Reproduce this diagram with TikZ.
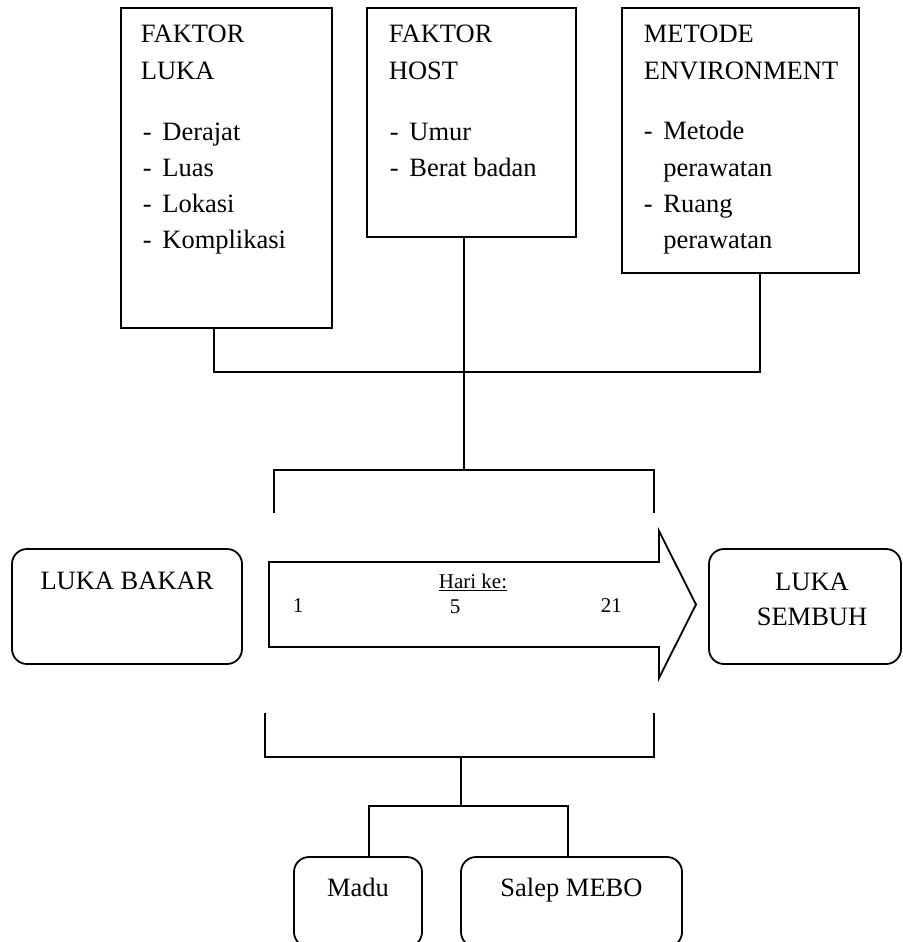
\documentclass[tikz,border=0pt]{standalone}
\usepackage{fontspec}
\setmainfont{Liberation Serif}
\newcommand{\itm}[1]{\makebox[19.5pt][l]{-}#1}
\begin{document}
\begin{tikzpicture}[x=1pt,y=-1pt,
  line width=1.8pt,
  sqbox/.style={draw, line width=1.8pt, rectangle, anchor=north west, inner sep=0pt, outer sep=0pt},
  rbox/.style={sqbox, rounded corners=15pt},
  big/.style={anchor=base west, inner sep=0pt, font=\fontsize{26.5pt}{36pt}\selectfont},
  bigc/.style={big, anchor=base},
  small/.style={anchor=base west, inner sep=0pt, font=\fontsize{21pt}{25pt}\selectfont},
  smallc/.style={small, anchor=base},
  conn/.style={draw, line width=1.8pt}
]
\useasboundingbox (0,0) rectangle (902,942);

% top boxes
\node[sqbox, minimum width=211pt, minimum height=320pt] (b1) at (121,8) {};
\node[sqbox, minimum width=209pt, minimum height=229pt] (b2) at (367,8) {};
\node[sqbox, minimum width=237pt, minimum height=265pt] (b3) at (622,8) {};

\node[big] (b1a) at (140,43) {FAKTOR};
\node[big] (b1b) at (140,79) {LUKA};
\node[big] (b1c) at (142,140) {\itm{Derajat}};
\node[big] (b1d) at (142,176) {\itm{Luas}};
\node[big] (b1e) at (142,212) {\itm{Lokasi}};
\node[big] (b1f) at (142,248) {\itm{Komplikasi}};

\node[big] (b2a) at (388,43) {FAKTOR};
\node[big] (b2b) at (388,79) {HOST};
\node[big] (b2c) at (389,140) {\itm{Umur}};
\node[big] (b2d) at (389,176) {\itm{Berat badan}};

\node[big] (b3a) at (643,43) {METODE};
\node[big] (b3b) at (643,79) {ENVIRONMENT};
\node[big] (b3c) at (643,139) {\itm{Metode}};
\node[big] (b3d) at (662.5,176) {perawatan};
\node[big] (b3e) at (643,212) {\itm{Ruang}};
\node[big] (b3f) at (662.5,248) {perawatan};

% top connectors
\coordinate (j1) at (214,372);
\coordinate (j3) at (760,372);
\coordinate (jm) at (464,470);
\coordinate (ubl) at (274,513);
\coordinate (ubr) at (654,513);
\draw[conn] (b1.south -| j1) -- (j1) -- (j3) -- (b3.south -| j3);
\draw[conn] (b2.south -| jm) -- (jm);
\draw[conn] (ubl) |- (jm) -| (ubr);

% middle row
\node[rbox, minimum width=230pt, minimum height=115pt] (lb) at (12,549) {};
\node[bigc] (lbt) at (127,589) {LUKA BAKAR};

\node[rbox, minimum width=192pt, minimum height=115pt] (ls) at (709,549) {};
\node[bigc] (lst1) at (812,590) {LUKA};
\node[bigc] (lst2) at (812,625) {SEMBUH};

\coordinate (arw) at (269,562);
\draw[line join=miter] (arw) -- (659,562) -- (659,531) -- (696,604.5) -- (659,678) -- (659,647) -- (269,647) -- cycle;
\node[smallc] (hari) at (473,588) {\underline{Hari ke:}};
\node[small] (d1) at (292,612) {1};
\node[smallc] (d5) at (455,613) {5};
\node[small] (d21) at (600,612) {21};

% lower connectors
\coordinate (lbl) at (265,713);
\coordinate (lbr) at (654,713);
\coordinate (lm) at (461,757);
\coordinate (sm) at (461,806);
\coordinate (sl) at (369,806);
\coordinate (sr) at (568,806);
\draw[conn] (lbl) |- (lm) -| (lbr);
\draw[conn] (lm) -- (sm);

\node[rbox, minimum width=128pt, minimum height=90pt] (madu) at (294,857) {};
\node[bigc] (madut) at (358,896) {Madu};
\node[rbox, minimum width=221pt, minimum height=90pt] (mebo) at (461,857) {};
\node[bigc] (mebot) at (571.5,896) {Salep MEBO};

\draw[conn] (madu.north -| sl) -- (sl) -- (sr) -- (mebo.north -| sr);
\end{tikzpicture}
\end{document}
